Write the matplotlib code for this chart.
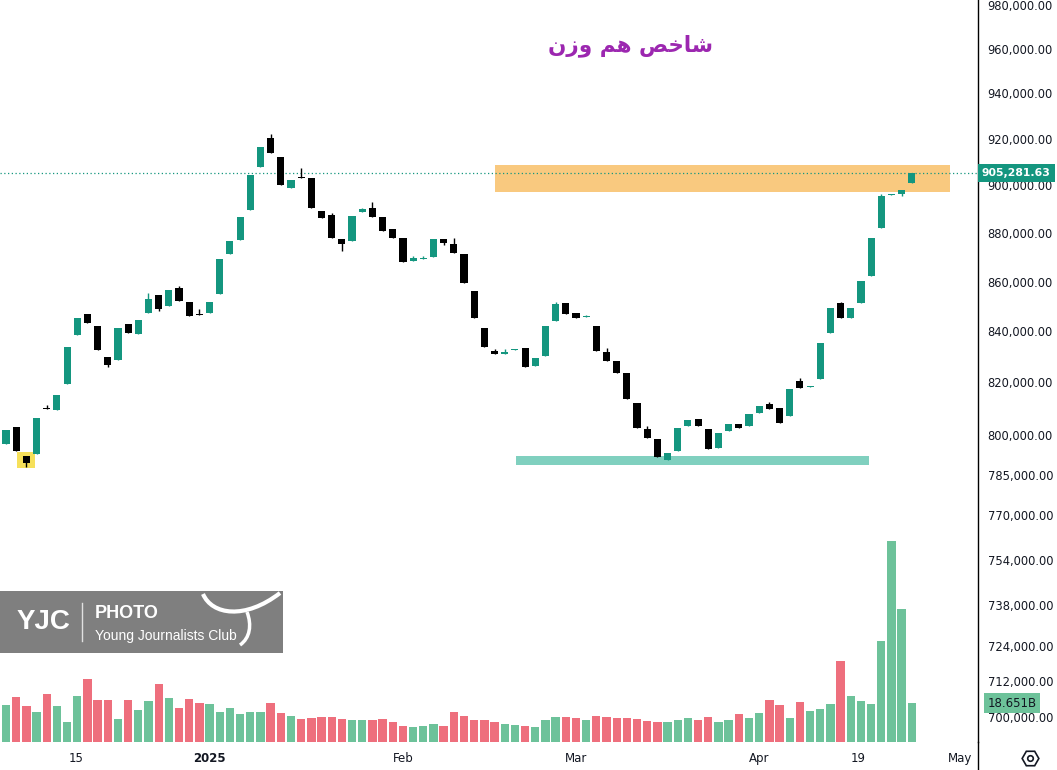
import matplotlib.pyplot as plt
import matplotlib.patches as mpatches
from matplotlib.lines import Line2D
from matplotlib.path import Path
from matplotlib.ticker import FixedLocator, NullLocator
import numpy as np

# daily candles, price in thousands
opens = [796.4, 802.9, 791.9, 792.7, 810.1, 809.4, 819.3, 838.5, 846.9, 842.0,
         829.9, 828.7, 842.9, 838.9, 847.3, 854.6, 850.1, 857.4, 851.8, 846.7,
         847.3, 855.0, 871.2, 876.9, 889.5, 907.7, 920.3, 912.1, 898.8, 903.7,
         903.1, 889.1, 887.4, 877.4, 876.5, 888.7, 890.4, 886.6, 881.6, 877.8,
         868.3, 869.4, 869.9, 877.4, 875.4, 871.2, 856.2, 841.3, 832.2, 831.0,
         832.6, 833.4, 826.3, 830.2, 844.1, 851.4, 847.3, 845.6, 842.0, 831.8,
         828.3, 823.6, 812.1, 802.1, 798.3, 790.5, 793.8, 803.3, 805.9, 802.1,
         794.9, 801.3, 804.0, 803.3, 808.2, 811.7, 810.1, 807.1, 820.5, 818.3,
         821.2, 839.3, 851.4, 845.3, 851.4, 862.2, 882.0, 896.0, 896.3, 901.0]
highs = [801.7, 802.9, 791.9, 806.3, 811.3, 815.1, 833.8, 845.3, 846.9, 842.0,
         829.9, 841.3, 842.9, 844.5, 855.4, 854.6, 856.6, 858.2, 851.8, 848.9,
         851.8, 869.1, 876.5, 886.6, 904.3, 916.4, 922.0, 912.1, 902.2, 907.3,
         903.1, 889.1, 888.2, 877.4, 887.0, 890.4, 893.0, 886.6, 881.6, 877.8,
         870.3, 870.3, 877.4, 877.4, 877.8, 871.2, 856.2, 841.3, 833.0, 833.0,
         833.0, 833.4, 829.5, 842.0, 851.8, 851.4, 847.3, 846.5, 842.0, 833.4,
         828.3, 823.6, 812.1, 803.3, 798.3, 793.1, 802.5, 805.5, 805.9, 802.1,
         800.6, 804.0, 804.0, 807.8, 810.9, 812.4, 810.1, 817.4, 821.6, 818.6,
         835.4, 849.3, 851.8, 849.3, 860.2, 877.8, 896.2, 896.4, 898.0, 905.282]
lows = [796.4, 793.8, 787.8, 792.7, 809.8, 809.4, 819.3, 838.5, 843.3, 832.6,
        826.0, 828.7, 839.3, 838.9, 847.3, 848.1, 850.1, 852.2, 846.1, 846.5,
        847.3, 855.0, 871.2, 876.9, 889.5, 907.7, 913.8, 900.1, 898.8, 903.3,
        890.4, 886.1, 877.8, 872.5, 876.5, 888.7, 886.6, 880.7, 877.8, 867.9,
        868.3, 869.4, 869.9, 874.9, 871.6, 859.4, 845.3, 833.8, 831.0, 831.0,
        832.6, 826.0, 826.3, 830.2, 844.1, 846.9, 845.3, 845.6, 832.2, 828.3,
        823.6, 813.6, 802.5, 798.7, 791.6, 790.5, 793.8, 803.3, 803.3, 794.6,
        794.9, 801.3, 802.5, 803.3, 808.2, 809.8, 804.4, 807.1, 817.8, 818.3,
        821.2, 839.3, 845.3, 845.3, 851.4, 862.2, 882.0, 896.0, 895.4, 901.0]
closes = [801.7, 793.8, 789.3, 806.3, 809.8, 815.1, 833.8, 845.3, 843.3, 832.6,
          826.7, 841.3, 839.3, 844.5, 853.0, 848.9, 856.6, 852.2, 846.1, 846.5,
          851.8, 869.1, 876.5, 886.6, 904.3, 916.4, 913.8, 900.1, 902.2, 903.3,
          890.4, 886.1, 877.8, 875.4, 887.0, 890.0, 886.6, 880.7, 877.8, 867.9,
          869.5, 869.6, 877.4, 875.8, 871.6, 859.4, 845.3, 833.8, 831.0, 831.8,
          833.0, 826.0, 829.5, 842.0, 850.9, 846.9, 845.3, 845.8, 832.2, 828.3,
          823.6, 813.6, 802.5, 798.7, 791.6, 793.1, 802.5, 805.5, 803.3, 794.6,
          800.6, 804.0, 802.5, 807.8, 810.9, 809.8, 804.4, 817.4, 817.8, 818.5,
          835.4, 849.3, 845.3, 849.3, 860.2, 877.8, 895.4, 896.3, 898.0, 905.28163]
# volume in billions
volumes = [17.7, 21.5, 17.2, 14.4, 23.0, 17.2, 9.6, 22.0, 30.1, 20.1,
           20.1, 11.0, 20.1, 15.3, 19.6, 27.8, 21.1, 16.3, 20.6, 18.7,
           18.2, 14.4, 16.3, 13.4, 14.4, 14.4, 18.7, 13.9, 12.4, 11.0,
           11.5, 12.0, 12.0, 11.0, 10.5, 10.5, 10.5, 11.0, 9.6, 7.7,
           7.2, 7.7, 8.6, 7.7, 14.4, 12.4, 10.5, 10.5, 9.6, 8.6,
           8.1, 7.7, 7.2, 10.5, 12.0, 12.0, 11.5, 10.5, 12.4, 12.0,
           11.5, 11.5, 11.0, 10.0, 9.6, 9.6, 10.5, 11.5, 10.5, 12.0,
           9.6, 10.5, 13.4, 11.5, 13.9, 20.1, 17.7, 11.5, 19.1, 14.8,
           15.8, 18.2, 38.8, 22.0, 19.6, 18.2, 48.3, 96.2, 63.6, 18.651]

price_ticks = [980, 960, 940, 920, 900, 880, 860, 840, 820, 800,
               785, 770, 754, 738, 724, 712, 700]
date_ticks = [6.9, 20.0, 39.0, 56.0, 74.0, 83.7, 93.7]
date_labels = ['15', '2025', 'Feb', 'Mar', 'Apr', '19', 'May']

up_col = '#14967f'
down_col = '#000000'
vol_up = '#6dc29a'
vol_down = '#ee6f7d'
txt_col = '#131722'

W, H = 1057, 770
fig = plt.figure(figsize=(W / 100, H / 100), dpi=100)
fig.patch.set_facecolor('white')

ax = fig.add_axes([0, 28 / H, 978 / W, 742 / H])
vax = ax.twinx()
ax.set_zorder(vax.get_zorder() + 1)
ax.patch.set_visible(False)

x = np.arange(len(opens))
o = np.array(opens)
c = np.array(closes)
up = c >= o

# volume
vax.bar(x, volumes, width=0.82, color=np.where(up, vol_up, vol_down), zorder=1)
vax.set_ylim(0, 355)
vax.set_yticks([])
for s in vax.spines.values():
    s.set_visible(False)

# highlight zones
ax.add_patch(mpatches.Rectangle((48.0, 897.1), 44.7, 908.6 - 897.1,
                                color='#f9c97f', lw=0, zorder=1))
ax.add_patch(mpatches.Rectangle((50.1, 788.5), 34.7, 791.9 - 788.5,
                                color='#80d0bf', lw=0, zorder=1))
ax.add_patch(mpatches.Rectangle((1.08, 787.4), 1.77, 793.4 - 787.4,
                                color='#f6e05a', lw=0, zorder=1))

# candles
cols = np.where(up, up_col, down_col)
ax.vlines(x, lows, highs, colors=cols, lw=1, zorder=3)
body_lo = np.minimum(o, c)
body_h = np.maximum(np.abs(c - o), 0.4)
ax.bar(x, body_h, bottom=body_lo, width=0.7, color=cols, lw=0, zorder=4)

# last price line
last = closes[-1]
ax.axhline(last, color=up_col, lw=0.9, ls=(0, (1, 2)), zorder=2)

ax.set_yscale('log')
ax.set_ylim(691.8, 982.4)
ax.set_xlim(-0.59, 95.5)
ax.yaxis.tick_right()
ax.yaxis.set_major_locator(FixedLocator(price_ticks))
ax.yaxis.set_minor_locator(NullLocator())
ax.set_yticklabels([f'{v * 1000:,.2f}' for v in price_ticks])
ax.tick_params(axis='y', length=0, pad=7, labelsize=8.3, labelcolor=txt_col)
ax.set_xticks(date_ticks)
ax.set_xticklabels(date_labels)
ax.tick_params(axis='x', length=0, pad=7, labelsize=8.5, labelcolor=txt_col)
ax.get_xticklabels()[1].set_fontweight('bold')
for side in ['top', 'left', 'bottom']:
    ax.spines[side].set_visible(False)
ax.spines['right'].set_color('#000000')
ax.spines['right'].set_linewidth(1)
fig.add_artist(Line2D([978 / W, 978 / W], [0, 28 / H], color='#000000', lw=1))

# axis value labels
ax.text(1.004, last, f'{last * 1000:,.2f}', transform=ax.get_yaxis_transform(),
        ha='left', va='center', fontsize=7.8, color='white', fontweight='bold',
        bbox=dict(boxstyle='square,pad=0.35', fc=up_col, ec='none'),
        zorder=6, clip_on=False)
vax.text(1.01, volumes[-1], f'{volumes[-1]:.3f}B', transform=vax.get_yaxis_transform(),
         ha='left', va='center', fontsize=8.5, color=txt_col,
         bbox=dict(boxstyle='square,pad=0.3', fc=vol_up, ec='none'),
         zorder=6, clip_on=False)

# title (presentation forms, since matplotlib does not join Arabic letters)
fig.text(630 / W, 1 - 46 / H, '\ufee5\ufeaf\ufeed \ufee2\ufeeb \ufeba\ufea7\ufe8e\ufeb7',
         ha='center', va='center', fontsize=15.5, fontweight='bold',
         color='#9c27b0', family='DejaVu Sans')

# watermark box
fig.add_artist(mpatches.Rectangle((0, (H - 653) / H), 283 / W, 62 / H,
                                  transform=fig.transFigure, color='#7f7f7f', lw=0))
fig.text(17 / W, 1 - 622 / H, 'YJC', ha='left', va='center', fontsize=20,
         fontweight='bold', color='white', family='Liberation Sans')
fig.add_artist(Line2D([82 / W, 82 / W], [1 - 603 / H, 1 - 641 / H], color='#e0e0e0', lw=1))
fig.text(95 / W, 1 - 613 / H, 'PHOTO', ha='left', va='center', fontsize=13,
         fontweight='bold', color='white', family='Liberation Sans')
fig.text(95 / W, 1 - 636 / H, 'Young Journalists Club', ha='left', va='center',
         fontsize=10, color='white', family='Liberation Sans')
verts = [(203, 594), (212, 615), (245, 620), (280, 593)]
swoosh = Path([(vx / W, 1 - vy / H) for vx, vy in verts],
              [Path.MOVETO, Path.CURVE4, Path.CURVE4, Path.CURVE4])
fig.add_artist(mpatches.PathPatch(swoosh, transform=fig.transFigure, fc='none',
                                  ec='white', lw=3))
verts2 = [(247, 612), (252, 625), (250, 638), (240, 645)]
stem = Path([(vx / W, 1 - vy / H) for vx, vy in verts2],
            [Path.MOVETO, Path.CURVE4, Path.CURVE4, Path.CURVE4])
fig.add_artist(mpatches.PathPatch(stem, transform=fig.transFigure, fc='none',
                                  ec='white', lw=2.5))

# settings icon
fig.add_artist(Line2D([1030 / W], [1 - 758 / H], marker='H', markersize=12,
                      mfc='none', mec='#131722', mew=1.2))
fig.add_artist(Line2D([1030 / W], [1 - 758 / H], marker='o', markersize=4,
                      mfc='none', mec='#131722', mew=1.2))

fig.savefig('out.png', dpi=100, facecolor='white')
